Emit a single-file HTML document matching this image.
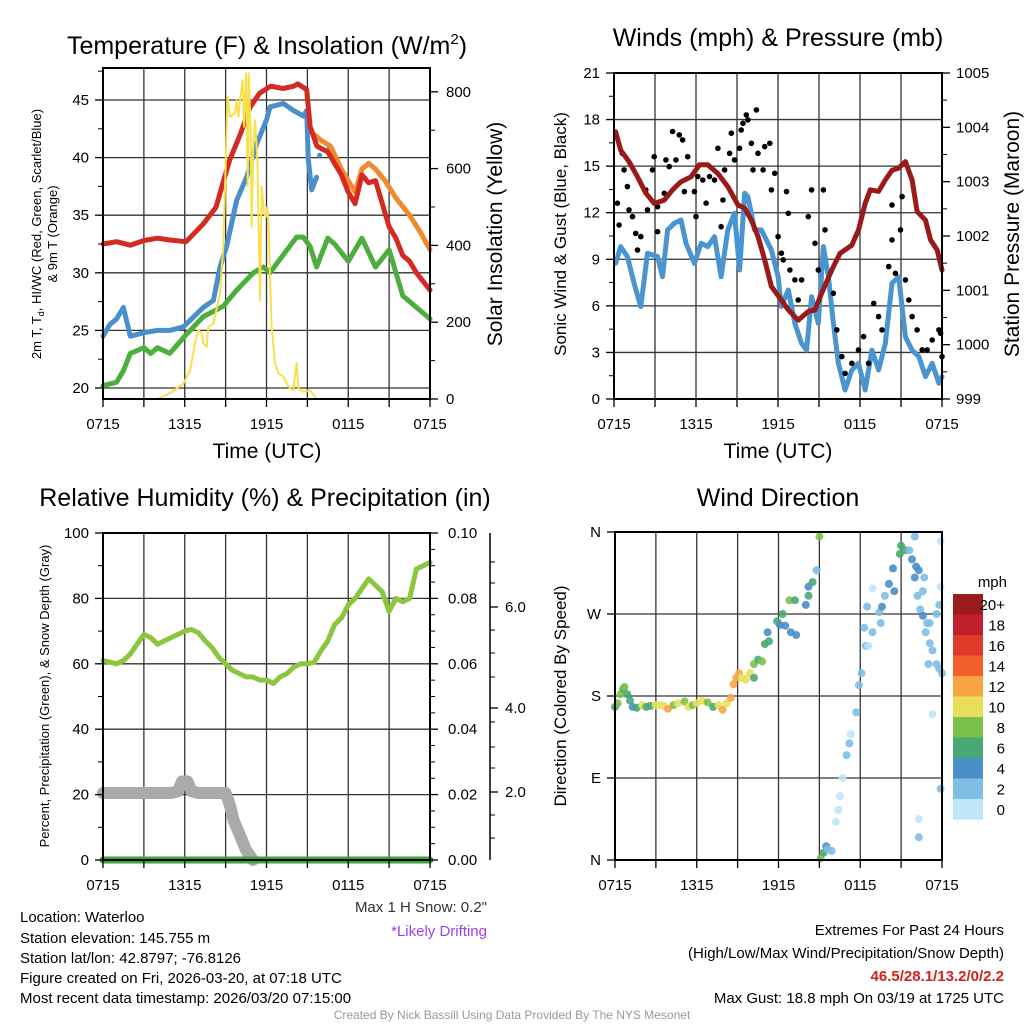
<!DOCTYPE html>
<html><head><meta charset="utf-8"><style>
body{margin:0;background:#fff}
svg{display:block;font-family:"Liberation Sans",Arial,sans-serif}
</style></head><body>
<svg id="s" width="1024" height="1024" viewBox="0 0 1024 1024" xmlns="http://www.w3.org/2000/svg">
<rect width="1024" height="1024" fill="#fff"/>
<g id="grid"></g>
<g id="marks"></g>
<g id="axes"></g>
<g font-size="25" text-anchor="middle" fill="#000">
<text x="267" y="54">Temperature (F) &amp; Insolation (W/m<tspan font-size="15" dy="-10">2</tspan><tspan dy="10">)</tspan></text>
<text x="778" y="46">Winds (mph) &amp; Pressure (mb)</text>
<text x="265" y="506">Relative Humidity (%) &amp; Precipitation (in)</text>
<text x="778" y="506">Wind Direction</text>
</g>
<g font-size="21" text-anchor="middle">
<text x="267" y="458">Time (UTC)</text>
<text x="778" y="458">Time (UTC)</text>
<text transform="translate(502,234) rotate(-90)">Solar Insolation (Yellow)</text>
<text transform="translate(1019,234) rotate(-90)">Station Pressure (Maroon)</text>
</g>
<g font-size="17" text-anchor="middle">
<text transform="translate(566,234) rotate(-90)">Sonic Wind &amp; Gust (Blue, Black)</text>
<text transform="translate(566,696) rotate(-90)">Direction (Colored By Speed)</text>
</g>
<g font-size="13" text-anchor="middle">
<text transform="translate(41,234) rotate(-90)">2m T, T<tspan font-size="9" dy="3">d</tspan><tspan dy="-3">, HI/WC (Red, Green, Scarlet/Blue)</tspan></text>
<text transform="translate(57,234) rotate(-90)">&amp; 9m T (Orange)</text>
<text transform="translate(49,696) rotate(-90)">Percent, Precipitation (Green), &amp; Snow Depth (Gray)</text>
</g>
<g font-size="15">
<text x="20" y="922">Location: Waterloo</text>
<text x="20" y="943">Station elevation: 145.755 m</text>
<text x="20" y="963">Station lat/lon: 42.8797; -76.8126</text>
<text x="20" y="983">Figure created on Fri, 2026-03-20, at 07:18 UTC</text>
<text x="20" y="1003">Most recent data timestamp: 2026/03/20 07:15:00</text>
<text x="487" y="912" text-anchor="end" fill="#333">Max 1 H Snow: 0.2"</text>
<text x="487" y="936" text-anchor="end" fill="#a040f0">*Likely Drifting</text>
<text x="1004" y="935" text-anchor="end">Extremes For Past 24 Hours</text>
<text x="1004" y="958" text-anchor="end">(High/Low/Max Wind/Precipitation/Snow Depth)</text>
<text x="1004" y="981" text-anchor="end" fill="#d42020" font-weight="bold">46.5/28.1/13.2/0/2.2</text>
<text x="1004" y="1003" text-anchor="end">Max Gust: 18.8 mph On 03/19 at 1725 UTC</text>
</g>
<text x="512" y="1019" font-size="12" fill="#999" text-anchor="middle">Created By Nick Bassill Using Data Provided By The NYS Mesonet</text>
<text x="1007" y="587" font-size="15" text-anchor="end">mph</text>
</svg>
<script>
// ---- data ----
const xTickLabels=["0715","1315","1915","0115","0715"];
const tempTicks=[20,25,30,35,40,45];
const solarTicks=[0,200,400,600,800];
const windTicks=[0,3,6,9,12,15,18,21];
const presTicks=[999,1000,1001,1002,1003,1004,1005];
const rhTicks=[0,20,40,60,80,100];
const precipTicks=["0.00","0.02","0.04","0.06","0.08","0.10"];
const snowTickLabels=["2.0","4.0","6.0"];
const dirLabels=["N","E","S","W","N"];
const speedLabels=["20+","18","16","14","12","10","8","6","4","2","0"];

const redH=[0,1,2,3,4,4.9,6.1,7.4,8.3,8.8,9.3,10.1,10.8,11.5,12.3,13.2,14,14.3,14.95,15.2,15.7,16,16.5,17,17.5,18,18.5,19,19.5,20,20.5,21,21.5,22,22.5,23,24];
const redV=[32.5,32.7,32.4,32.8,33,32.85,32.7,34.3,35.7,37.8,39.8,42.1,44.4,45.6,46.2,46,46.2,46.4,45.9,42.7,41,40.8,40.5,39.5,38.5,37,36,38.5,37.8,38,36,34,33,31.5,31,30,28.5];
const orangeH=[15.5,16,16.7,17.5,18.5,19,19.5,20,20.7,21.5,22.5,23.3,24];
const orangeV=[42,41.5,41,39,37,39,39.5,39,38,36.5,35,33.5,32];
const blueH=[0,0.5,1,1.5,2,3,4,4.9,5.9,7.36,8.1,8.59,9.07,9.81,10.54,11.28,12.01,12.26,13.24,13.97,14.7,14.95,15.07,15.32,15.68];
const blueV=[24.5,25.5,26,27,24.5,24.8,25,25,25.3,27,27.6,30.5,32.3,36.3,38.3,41.2,43.3,44.4,44.7,44.1,43.6,44.1,39.8,37.2,38.3];
const greenH=[0,1,1.5,2,3,3.5,4,4.9,6,7.36,8.83,9.81,11.03,11.77,12.26,12.75,14.21,14.7,15.19,15.68,16,16.5,17,18,19,20,21,22,23,24];
const greenV=[20.2,20.5,21.5,23,23.5,23,23.5,23,24.5,26.2,27.1,28.5,30,30.5,30,30.8,33.1,33.1,32.3,30.5,31.5,33,32.5,31,33,30.5,32,28,27,26];
const solarH=[0,4,4.92,5.9,6.39,6.75,6.99,7.24,7.36,7.61,7.73,8.1,8.59,8.83,8.95,9.13,9.32,9.69,9.81,9.93,10.06,10.25,10.35,10.5,10.62,10.69,10.84,10.91,11.03,11.16,11.33,11.52,11.65,11.82,11.96,12.06,12.16,12.26,12.38,12.62,12.87,13.24,13.48,13.72,13.97,14.21,14.34,14.7,15.19,15.68,24];
const solarV=[0,0,15,40,75,145,180,171,145,136,188,197,275,397,536,787,735,744,778,735,778,830,709,848,554,848,692,449,657,726,622,257,554,483,475,501,449,318,188,93,67,58,40,28,23,93,28,19,23,0,0];

const windH=[0.12,0.49,0.98,1.47,1.96,2.45,3.19,3.55,3.92,4.41,4.9,5.27,5.88,6.37,6.86,7.35,7.84,8.33,8.82,9.19,9.56,9.8,10.29,10.78,11.52,12.01,12.25,12.75,13.24,13.73,14.09,14.46,14.95,15.32,15.69,16.05,16.42,16.91,17.4,17.89,18.38,18.87,19.36,19.85,20.34,20.83,21.32,21.81,22.3,22.79,23.28,23.77,24];
const windV=[8.74,9.82,9.17,7.45,5.95,9.39,9.17,7.88,10.89,11.32,11.53,10.03,8.74,10.03,9.82,10.46,7.88,10.89,11.96,8.31,13.25,13.04,10.89,10.89,9.6,7.88,5.95,7.02,4.87,3.58,3.15,6.59,4.87,9.82,7.88,4.87,2.3,0.58,1.87,2.3,0.58,3.15,1.87,3.58,7.45,7.88,4.0,3.15,2.73,1.44,2.3,1.01,1.44];
const gustH=[0.25,0.37,0.61,0.74,0.98,1.1,1.35,1.59,1.72,1.96,2.33,2.45,2.82,2.94,3.19,3.19,3.68,3.8,4.04,4.29,4.53,4.78,5.02,5.15,5.39,5.88,6.0,6.13,6.5,6.74,6.99,7.35,7.6,7.84,7.97,8.09,8.46,8.58,8.82,9.19,9.31,9.44,9.68,9.8,10.05,10.17,10.42,10.54,10.91,11.03,11.4,11.52,11.76,12.01,12.25,12.38,12.62,12.75,12.87,13.24,13.48,13.73,14.22,14.46,14.71,14.95,15.32,15.44,16.05,16.3,16.67,16.91,17.4,17.89,18.26,18.63,19.0,19.36,19.61,20.1,20.34,20.59,20.96,21.08,21.32,21.57,21.81,22.18,22.55,22.92,23.28,23.9,24,23.77,20.34];
const gustV=[12.61,11.21,15.83,14.76,13.68,12.18,11.75,10.67,9.6,10.46,13.47,12.18,14.76,15.61,12.39,10.78,13.25,15.4,14.97,17.23,15.4,17.01,16.69,13.36,15.61,13.36,11.75,14.33,14.11,12.61,14.33,14.11,16.15,11.1,12.82,14.76,15.83,17.12,15.4,16.15,17.33,17.76,18.3,17.98,16.47,14.76,18.62,15.83,14.76,16.26,16.47,13.47,14.54,10.46,9.39,8.96,13.36,11.96,8.31,7.67,6.38,7.67,11.75,13.47,10.03,8.31,13.47,10.89,6.81,4.45,2.73,1.65,2.3,3.16,4.02,2.3,6.16,5.31,4.45,8.53,10.25,8.1,10.89,13.04,7.67,6.38,5.31,4.45,3.16,3.16,3.8,4.23,2.73,4.45,12.5];
const presH=[0.12,0.49,1.1,1.72,2.33,2.94,3.68,4.29,4.9,5.64,6.25,6.86,7.6,8.33,9.07,9.56,10.05,10.54,11.03,11.52,12.25,12.75,13.48,14.22,14.71,15.2,15.93,16.54,17.4,17.89,18.38,18.75,19.36,19.85,20.34,20.83,21.32,21.81,22.18,22.79,23.16,23.65,24];
const presV=[1003.92,1003.58,1003.37,1003.09,1002.79,1002.6,1002.66,1002.85,1003.0,1003.09,1003.31,1003.31,1003.15,1002.91,1002.57,1002.51,1002.29,1001.99,1001.56,1001.07,1000.82,1000.64,1000.45,1000.61,1000.64,1000.95,1001.37,1001.68,1001.83,1002.11,1002.6,1002.85,1002.82,1003.03,1003.21,1003.25,1003.37,1003.03,1002.45,1002.29,1001.93,1001.74,1001.37];

const rhH=[0,0.5,1,1.5,2,2.5,3,3.5,4,4.5,5,5.5,6,6.5,7,7.5,8,8.5,9,9.5,10,10.5,11,11.5,12,12.5,13,13.5,14,14.5,15,15.5,16,16.5,17,17.5,18,18.5,19,19.5,20,20.5,21,21.5,22,22.5,23,23.5,24];
const rhV=[61,60.5,60,61,63,66,69,68,66,67,68,69,70,70.5,69.5,67,65,62,60,58,57,56,56,55,55,54,56,57,59,60,60,60.5,64,67,72,74,78,80,83,86,84,82,76,80,79,80,89,90,91];
const snowH=[0,1,2,3,4,5,5.5,5.8,6.2,6.5,7,8,9,9.3,9.6,10,10.5,11];
const snowV=[20.5,20.5,20.5,20.5,20.5,20.5,21,24,24,21,20.5,20.5,20.5,17,12,8,3,0];
const precipH=[0,24];
const precipV=[0,0];

const dirH=[0,0.2,0.4,0.6,0.7,0.9,1.1,1.3,1.6,2.0,2.3,2.6,3.0,3.3,3.6,3.9,4.3,4.6,5.1,5.4,5.7,6.0,6.4,6.8,7.2,7.6,7.9,8.2,8.5,8.7,8.9,9.1,9.3,9.6,9.9,10.2,10.5,10.8,10.2,11.3,11.0,11.2,11.9,12.1,12.5,12.9,13.3,12.3,12.8,13.2,14.2,14.0,14.2,14.5,14.8,15.0,15.1,15.3,15.5,15.6,15.9,16.2,16.4,16.5,16.7,17.0,17.2,17.3,17.7,17.9,18.1,18.4,18.3,18.6,18.9,18.5,18.9,19.4,19.5,19.6,19.8,20.1,20.4,20.5,20.9,21.0,21.3,21.8,22.0,22.2,22.4,22.6,22.8,22.9,23.1,23.3,23.6,23.8,24.0,23.8,22.7,23.6,23.9,23.9,22.0,23.3,22.3,22.3,23.9,22.6,23.1,23.0,22.3,22.1,21.6];
const dirV=[168,172,182,188,190,182,175,168,167,170,168,169,170,170,169,166,170,172,174,168,170,172,175,173,168,170,165,172,178,193,200,205,200,198,205,215,220,218,200,240,237,250,262,258,257,250,247,270,285,285,290,280,300,305,318,355,2,8,15,12,10,42,55,70,90,115,128,138,162,192,205,235,255,235,250,278,298,272,260,278,290,303,320,295,336,345,340,330,310,290,275,268,250,260,238,230,215,210,205,280,310,270,300,350,355,160,45,25,78,295,260,215,318,322,340];
const dirSpd=[7,8,8,7,9,6,6,5,6,10,7,7,10,10,10,12,9,10,8,10,9,10,10,9,7,10,12,10,12,12,12,13,10,10,10,8,7,8,6,6,7,5,6,4,4,4,4,6,8,7,6,4,5,6,3,9,8,6,5,3,2,0,1,1,1,2,2,1,3,2,2,3,2,1,3,3,1,3,2,4,3,4,4,4,7,7,6,5,5,3,3,4,3,2,2,3,2,3,3,2,2,2,1,1,2,0,0,3,2,2,3,2,4,4,2];

// ---- helpers ----
const NS="http://www.w3.org/2000/svg";
const G=document.getElementById('grid'),M=document.getElementById('marks'),A=document.getElementById('axes');
function el(tag,parent){const e=document.createElementNS(NS,tag);parent.appendChild(e);return e;}
function line(p,x1,y1,x2,y2,c,w,name){const e=el('line',p);e.setAttribute('x1',x1);e.setAttribute('y1',y1);e.setAttribute('x2',x2);e.setAttribute('y2',y2);e.setAttribute('stroke',c);e.setAttribute('stroke-width',w);


return e;}
function txt(p,x,y,s,anchor,size,name){const e=el('text',p);e.setAttribute('x',x);e.setAttribute('y',y);e.setAttribute('text-anchor',anchor);e.setAttribute('font-size',size);e.textContent=s;


return e;}
function path(hs,vs,xf,yf,c,w,name){let d='';for(let i=0;i<hs.length;i++)d+=(i?'L':'M')+xf(hs[i]).toFixed(1)+','+yf(vs[i]).toFixed(1);
const e=el('path',M);e.setAttribute('d',d);e.setAttribute('fill','none');e.setAttribute('stroke',c);e.setAttribute('stroke-width',w);e.setAttribute('stroke-linejoin','round');e.setAttribute('stroke-linecap','round');


return e;}
function dot(x,y,r,c,name){const e=el('circle',M);e.setAttribute('cx',x.toFixed(1));e.setAttribute('cy',y.toFixed(1));e.setAttribute('r',r);e.setAttribute('fill',c);


return e;}

const P1={x0:103,x1:430,y0:68,y1:399},P2={x0:614,x1:942,y0:73,y1:399},P3={x0:103,x1:430,y0:533,y1:860},P4={x0:615,x1:942,y0:532,y1:860};
const xA=P=>h=>P.x0+h*(P.x1-P.x0)/24;
const x1f=xA(P1),x2f=xA(P2),x3f=xA(P3),x4f=xA(P4);
const yT=v=>388-(v-20)*11.52, yS=v=>399-v*0.384;
const yW=v=>399-v*(326/21), yP=v=>399-(v-999)*(326/6);
const yR=v=>860-v*3.27, yPr=v=>860-v*3270;
const yD=d=>860-d*328/360;

function frame(P,name){
  for(let i=0;i<=8;i++){const x=P.x0+i*(P.x1-P.x0)/8;line(G,x,P.y0,x,P.y1,'#333',1.3,name+'-vgrid');line(A,x,P.y1,x,P.y1+8,'#000',1.3,name+'-x-tick');}
  const r=el('rect',A);r.setAttribute('x',P.x0);r.setAttribute('y',P.y0);r.setAttribute('width',P.x1-P.x0);r.setAttribute('height',P.y1-P.y0);r.setAttribute('fill','none');r.setAttribute('stroke','#000');r.setAttribute('stroke-width',2);
  
  
  xTickLabels.forEach((s,i)=>txt(A,P.x0+i*(P.x1-P.x0)/4,P.y1+30,s,'middle',15,name+'-x-tick-label'));
}
// Panel 1
frame(P1,'temp');
tempTicks.forEach(v=>{line(G,P1.x0,yT(v),P1.x1,yT(v),'#333',1.3,'temp-hgrid');line(A,P1.x0-8,yT(v),P1.x0,yT(v),'#000',1.3,'temp-y-tick');txt(A,P1.x0-14,yT(v)+5,String(v),'end',15,'temp-y-tick-label');line(A,P1.x0-5,yT(v+2.5),P1.x0,yT(v+2.5),'#000',1,'temp-minor-tick');});
solarTicks.forEach(v=>{line(A,P1.x1,yS(v),P1.x1+8,yS(v),'#000',1.3,'solar-y-tick');txt(A,P1.x1+16,yS(v)+5,String(v),'start',15,'solar-y-tick-label');line(A,P1.x1,yS(v+100),P1.x1+5,yS(v+100),'#000',1,'solar-minor-tick');});
path(greenH,greenV,x1f,yT,'#4cae3c',5,'dewpoint-line');
path(blueH,blueV,x1f,yT,'#4a8fcc',5,'windchill-line');
dot(x1f(15.9),yT(40.2),2.5,'#4a8fcc','windchill-dot');dot(x1f(16.6),yT(40.8),2.5,'#4a8fcc','windchill-dot');
path(orangeH,orangeV,x1f,yT,'#f08a30',5,'temp-9m-line');
path(redH,redV,x1f,yT,'#d42a22',5,'temp-2m-line');
path(solarH,solarV,x1f,yS,'#f9e04a',2,'solar-line');

// Panel 2
frame(P2,'winds');
windTicks.forEach(v=>{line(G,P2.x0,yW(v),P2.x1,yW(v),'#333',1.3,'winds-hgrid');line(A,P2.x0-8,yW(v),P2.x0,yW(v),'#000',1.3,'wind-y-tick');txt(A,P2.x0-14,yW(v)+5,String(v),'end',15,'wind-y-tick-label');if(v<21)line(A,P2.x0-5,yW(v+1.5),P2.x0,yW(v+1.5),'#000',1,'wind-minor-tick');});
presTicks.forEach(v=>{line(A,P2.x1,yP(v),P2.x1+8,yP(v),'#000',1.3,'pressure-y-tick');txt(A,P2.x1+14,yP(v)+5,String(v),'start',15,'pressure-y-tick-label');if(v<1005)line(A,P2.x1,yP(v+0.5),P2.x1+5,yP(v+0.5),'#000',1,'pressure-minor-tick');});
path(windH,windV,x2f,yW,'#4a95d0',5,'sonic-wind-line');
gustH.forEach((h,i)=>dot(x2f(h),yW(gustV[i]),2.8,'#000','gust-point'));
path(presH,presV,x2f,yP,'#9a1a1a',5,'pressure-line');

// Panel 3
frame(P3,'rh');
rhTicks.forEach((v,i)=>{line(G,P3.x0,yR(v),P3.x1,yR(v),'#333',1.3,'rh-hgrid');line(A,P3.x0-8,yR(v),P3.x0,yR(v),'#000',1.3,'rh-y-tick');txt(A,P3.x0-14,yR(v)+5,String(v),'end',15,'rh-y-tick-label');
 line(A,P3.x1,yR(v),P3.x1+8,yR(v),'#000',1.3,'precip-y-tick');txt(A,P3.x1+18,yR(v)+5,precipTicks[i],'start',15,'precip-y-tick-label');
 if(v<100){line(A,P3.x0-5,yR(v+10),P3.x0,yR(v+10),'#000',1,'rh-minor-tick');for(let k=1;k<4;k++)line(A,P3.x1,yR(v+k*5),P3.x1+5,yR(v+k*5),'#000',1,'precip-minor-tick');}});
line(A,490,533,490,860,'#000',1.5,'snow-axis-line');
[562,583,630,653,677,722,747,768,815,838].forEach(y=>line(A,490,y,495,y,'#000',1,'snow-minor-tick'));
[792,708,607].forEach((y,i)=>{line(A,490,y,498,y,'#000',1.3,'snow-y-tick');txt(A,505,y+5,snowTickLabels[i],'start',15,'snow-y-tick-label');});
path(snowH,snowV,x3f,yR,'#aaaaaa',12,'snow-depth-line');
path(precipH,precipV,x3f,yPr,'#3aa63a',7,'precip-line');
path(rhH,rhV,x3f,yR,'#8cc63f',5,'rh-line');

// Panel 4
frame(P4,'direction');
dirLabels.forEach((s,i)=>{const y=yD(i*90);line(G,P4.x0,y,P4.x1,y,'#333',1.3,'direction-hgrid');line(A,P4.x0-8,y,P4.x0,y,'#000',1.3,'direction-y-tick');txt(A,P4.x0-14,y+5,s,'end',15,'direction-y-tick-label');});
const spdColors=['#9b1b1e','#c0202a','#e03a2c','#f0612c','#f8a445','#e8e05a','#7cc24a','#48a874','#4a8fc9','#7fbce6','#bfe6f8'];
function spdColor(s){const idx=Math.max(0,Math.min(10,10-Math.floor(s/2)));return spdColors[idx];}
dirH.forEach((h,i)=>{const c=dot(x4f(h),yD(dirV[i]),4,spdColor(dirSpd[i]),'direction-point');c.setAttribute('opacity','0.9');});
speedLabels.forEach((s,i)=>{const r=el('rect',A);r.setAttribute('x',953);r.setAttribute('y',594+i*20.5);r.setAttribute('width',30);r.setAttribute('height',20.6);r.setAttribute('fill',spdColors[i]);
 
 
 txt(A,1005,594+i*20.5+16,s,'end',15,'colorbar-label');});
</script>
</body></html>
